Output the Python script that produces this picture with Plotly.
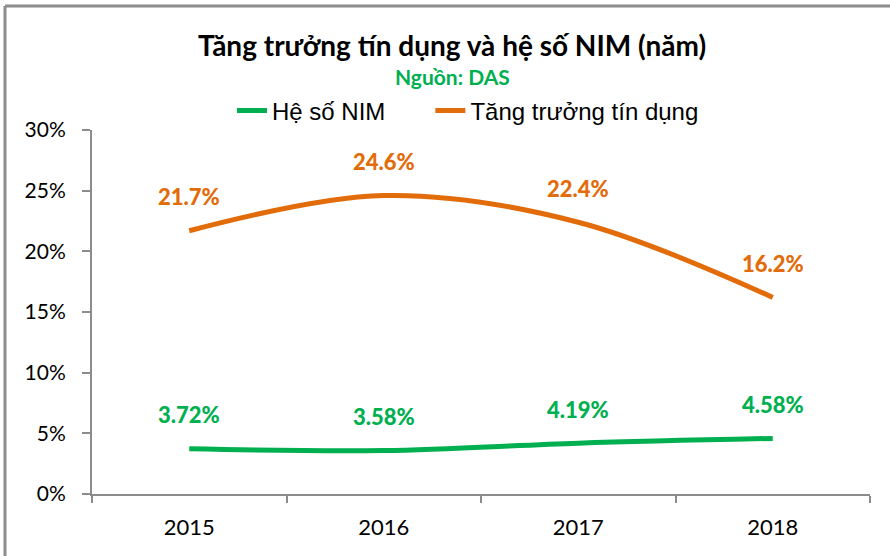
import plotly.graph_objects as go

years = ["2015", "2016", "2017", "2018"]
nim = [0.0372, 0.0358, 0.0419, 0.0458]
credit = [0.217, 0.246, 0.224, 0.162]
nim_labels = ["3.72%", "3.58%", "4.19%", "4.58%"]
credit_labels = ["21.7%", "24.6%", "22.4%", "16.2%"]

GREEN = "#00B050"
ORANGE = "#E36C0A"
FONT = "Lato, 'Open Sans', sans-serif"

L = 92; T = 130; W = 778; H = 364
def px(xpix):
    return (xpix - L) / W
def py(ypix):
    return (T + H - ypix) / H

fig = go.Figure()
fig.add_trace(go.Scatter(x=years, y=nim, mode="lines", name="Hệ số NIM      ",
                         line=dict(color=GREEN, width=5, shape="spline", smoothing=1)))
fig.add_trace(go.Scatter(x=years, y=credit, mode="lines", name="Tăng trưởng tín dụng",
                         line=dict(color=ORANGE, width=5, shape="spline", smoothing=1)))

for i, (y, t) in enumerate(zip(nim, nim_labels)):
    fig.add_annotation(x=i, y=y, xref="x", yref="y", text=t, showarrow=False,
                       yshift=34, font=dict(family=FONT, size=22, color=GREEN, weight=900))
for i, (y, t) in enumerate(zip(credit, credit_labels)):
    fig.add_annotation(x=i, y=y, xref="x", yref="y", text=t, showarrow=False,
                       yshift=34, font=dict(family=FONT, size=22, color=ORANGE, weight=900))

fig.add_annotation(xref="paper", yref="paper", x=px(452), y=py(45),
                   text="<b>Tăng trưởng tín dụng và hệ số NIM (năm)</b>", showarrow=False,
                   xanchor="center", yanchor="middle",
                   font=dict(family=FONT, size=28, color="black"))
fig.add_annotation(xref="paper", yref="paper", x=px(452), y=py(76),
                   text="<b>Nguồn: DAS</b>", showarrow=False,
                   xanchor="center", yanchor="middle",
                   font=dict(family=FONT, size=21, color=GREEN))

# outer border (left and top only visible)
bx = px(5)
by = py(6)
fig.add_shape(type="line", xref="paper", yref="paper", x0=bx, x1=bx, y0=py(560), y1=by,
              line=dict(color="#8C8C8C", width=3))
fig.add_shape(type="line", xref="paper", yref="paper", x0=bx, x1=px(895), y0=by, y1=by,
              line=dict(color="#8C8C8C", width=3))

fig.update_layout(
    width=890, height=556,
    margin=dict(l=L, r=890 - L - W, t=T, b=556 - T - H, autoexpand=False),
    paper_bgcolor="white", plot_bgcolor="white",
    font=dict(family=FONT, color="black"),
    showlegend=True,
    legend=dict(orientation="h", xref="container", yref="container",
                x=468 / 890, xanchor="center", y=(556 - 111) / 556, yanchor="middle",
                font=dict(family="'Liberation Sans', Arial, sans-serif", size=24, color="black"),
                bgcolor="rgba(0,0,0,0)"),
    xaxis=dict(type="category", range=[-0.5, 3.5], showgrid=False, automargin=False,
               showline=True, linecolor="#8C8C8C", linewidth=2,
               ticks="outside", tickson="boundaries", ticklen=7, tickcolor="#8C8C8C", tickwidth=2,
               ticklabelstandoff=13,
               tickfont=dict(family=FONT, size=22, color="black")),
    yaxis=dict(range=[0, 0.30], dtick=0.05, tickformat=".0%", showgrid=False, automargin=False,
               showline=True, linecolor="#8C8C8C", linewidth=2, zeroline=False,
               ticks="outside", ticklen=8, tickcolor="#8C8C8C", tickwidth=2,
               ticklabelstandoff=12,
               tickfont=dict(family=FONT, size=21, color="black")),
)

fig.write_html("out.html", post_script="document.body.style.margin='0';",
               config={"displayModeBar": False})
